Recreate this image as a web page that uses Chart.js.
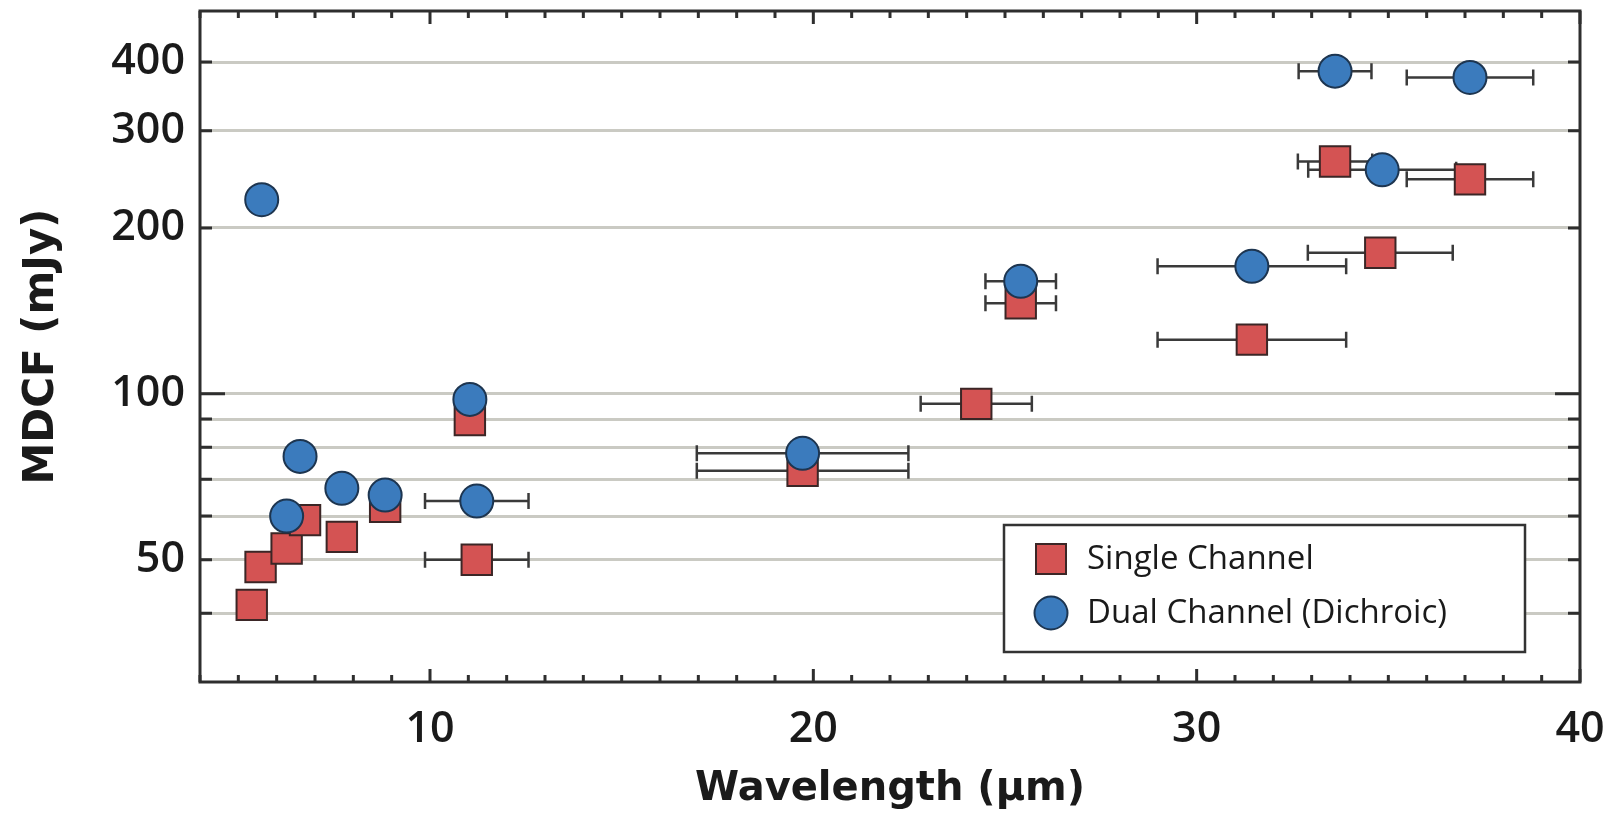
<!DOCTYPE html>
<html>
<head>
<meta charset="utf-8">
<title>MDCF vs Wavelength</title>
<script src="https://cdn.jsdelivr.net/npm/chart.js@4.4.1/dist/chart.umd.min.js"></script>
<style>
    html, body { margin: 0; padding: 0; background: #fff; }
    canvas { display: block; }
</style>
</head>
<body>
<canvas id="mdcfChart" width="1619" height="814"></canvas>
<script>
// --- data ---
const singleX    = [5.35, 5.58, 6.26, 6.74, 7.70, 8.83, 11.04, 11.22, 19.72, 24.25, 25.41, 31.44, 34.79, 33.61, 37.13];
const singleY    = [41.4, 48.5, 52.4, 59.0, 55.0, 62.4, 89.6, 50.0, 72.5, 95.9, 146, 125.4, 180.3, 264, 245];
const singleXErr = [0, 0, 0, 0, 0, 0, 0, 1.35, 2.76, 1.45, 0.92, 2.46, 1.89, 0.97, 1.65];

const dualX    = [5.61, 6.61, 6.26, 7.70, 8.83, 11.04, 11.22, 19.72, 25.41, 31.44, 33.61, 37.13, 34.84];
const dualY    = [225, 77, 60, 67.4, 65.5, 97.7, 63.9, 78, 160, 170.4, 385, 375, 255];
const dualXErr = [0, 0, 0, 0, 0, 0, 1.35, 2.76, 0.92, 2.46, 0.95, 1.65, 1.93];

const xTickLabels = [10, 20, 30, 40];
const yGridValues = [40, 50, 60, 70, 80, 90, 100, 200, 300, 400];
const yTickLabels = [50, 100, 200, 300, 400];

// --- styles ---
const RED = '#d45353';
const RED_EDGE = '#3b2626';
const BLUE = '#3b7bbd';
const BLUE_EDGE = '#1d3550';
const AXIS = '#2e2e2e';
const TEXT = '#1a1a1a';

function toPoints(xs, ys) {
    return xs.map((x, i) => ({ x: x, y: ys[i] }));
}

// error bars, frame, inward ticks and the boxed legend
const decorPlugin = {
    id: 'decor',
    beforeDatasetsDraw(chart) {
        const ctx = chart.ctx;
        const xs = chart.scales.x, ys = chart.scales.y;
        ctx.save();
        ctx.strokeStyle = '#3a3a3a';
        ctx.lineWidth = 2.5;
        chart.data.datasets.forEach(ds => {
            ds.data.forEach((p, i) => {
                const e = ds.xErr[i];
                if (!e) return;
                const x1 = xs.getPixelForValue(p.x - e);
                const x2 = xs.getPixelForValue(p.x + e);
                const y = ys.getPixelForValue(p.y);
                ctx.beginPath();
                ctx.moveTo(x1, y); ctx.lineTo(x2, y);
                ctx.moveTo(x1, y - 8); ctx.lineTo(x1, y + 8);
                ctx.moveTo(x2, y - 8); ctx.lineTo(x2, y + 8);
                ctx.stroke();
            });
        });
        ctx.restore();
    },
    afterDatasetsDraw(chart) {
        const ctx = chart.ctx;
        const a = chart.chartArea;
        const xs = chart.scales.x, ys = chart.scales.y;
        ctx.save();
        ctx.strokeStyle = AXIS;
        ctx.lineWidth = 3;

        // ticks on x (bottom and top), pointing inward
        xs.ticks.forEach(t => {
            const px = xs.getPixelForValue(t.value);
            const len = t.value % 10 === 0 ? 13 : 7;
            ctx.beginPath();
            ctx.moveTo(px, a.bottom); ctx.lineTo(px, a.bottom - len);
            ctx.moveTo(px, a.top); ctx.lineTo(px, a.top + len);
            ctx.stroke();
        });
        // ticks on y (left and right)
        ys.ticks.forEach(t => {
            const py = ys.getPixelForValue(t.value);
            const len = t.value === 100 ? 25 : 12;
            ctx.beginPath();
            ctx.moveTo(a.left, py); ctx.lineTo(a.left + len, py);
            ctx.moveTo(a.right, py); ctx.lineTo(a.right - len, py);
            ctx.stroke();
        });

        // frame
        ctx.strokeRect(a.left, a.top, a.right - a.left, a.bottom - a.top);

        // legend box
        const lw = 521, lh = 127;
        const lx = a.right - 55 - lw, ly = a.bottom - 30 - lh;
        ctx.fillStyle = '#fff';
        ctx.fillRect(lx, ly, lw, lh);
        ctx.lineWidth = 2.5;
        ctx.strokeStyle = '#333';
        ctx.strokeRect(lx, ly, lw, lh);

        const mx = lx + 47;
        const rows = [ly + 34, ly + 88];
        ctx.font = '33px "Open Sans"';
        ctx.textBaseline = 'alphabetic';
        ctx.textAlign = 'left';
        chart.data.datasets.forEach((ds, i) => {
            const my = rows[i];
            ctx.beginPath();
            if (ds.pointStyle === 'rect') {
                ctx.rect(mx - 15, my - 15, 30, 30);
            } else {
                ctx.arc(mx, my, 16.5, 0, Math.PI * 2);
            }
            ctx.fillStyle = ds.pointBackgroundColor;
            ctx.fill();
            ctx.lineWidth = 2;
            ctx.strokeStyle = ds.pointBorderColor;
            ctx.stroke();
            ctx.fillStyle = TEXT;
            ctx.fillText(ds.label, lx + 83, my + 10);
        });
        ctx.restore();
    }
};

const chart = new Chart(document.getElementById('mdcfChart'), {
    type: 'scatter',
    data: {
        datasets: [{
            label: 'Single Channel',
            data: toPoints(singleX, singleY),
            xErr: singleXErr,
            pointStyle: 'rect',
            pointRadius: 21.5,
            pointBackgroundColor: RED,
            pointBorderColor: RED_EDGE,
            pointBorderWidth: 2,
            order: 2
        }, {
            label: 'Dual Channel (Dichroic)',
            data: toPoints(dualX, dualY),
            xErr: dualXErr,
            pointStyle: 'circle',
            pointRadius: 16.5,
            pointBackgroundColor: BLUE,
            pointBorderColor: BLUE_EDGE,
            pointBorderWidth: 2,
            order: 1
        }]
    },
    options: {
        responsive: false,
        animation: false,
        events: [],
        layout: { autoPadding: false, padding: { top: 11, right: 39, left: 0, bottom: 0 } },
        plugins: {
            legend: { display: false },
            tooltip: { enabled: false }
        },
        scales: {
            x: {
                type: 'linear',
                min: 4,
                max: 40,
                grid: { display: false },
                border: { display: false },
                ticks: {
                    stepSize: 1,
                    autoSkip: false,
                    maxRotation: 0,
                    padding: 14,
                    color: TEXT,
                    font: { family: '"Open Sans"', size: 43, weight: '600' },
                    callback: v => xTickLabels.includes(v) ? String(v) : ''
                },
                title: {
                    display: true,
                    text: 'Wavelength (µm)',
                    color: TEXT,
                    font: { family: '"DejaVu Sans"', size: 40, weight: 'bold' },
                    padding: { top: 6, bottom: 0 }
                },
                afterFit: s => { s.height = 132; s.paddingLeft = 0; s.paddingRight = 0; }
            },
            y: {
                type: 'logarithmic',
                min: 30,
                max: 495,
                afterBuildTicks: s => { s.ticks = yGridValues.map(v => ({ value: v })); },
                grid: { color: 'rgba(180, 180, 170, 0.7)', lineWidth: 3, drawTicks: false },
                border: { display: false },
                ticks: {
                    autoSkip: false,
                    padding: 15,
                    color: TEXT,
                    font: { family: '"Open Sans"', size: 43, weight: '600' },
                    callback: v => yTickLabels.includes(v) ? String(v) : ''
                },
                title: {
                    display: true,
                    text: 'MDCF (mJy)',
                    color: TEXT,
                    font: { family: '"DejaVu Sans"', size: 42, weight: 'bold' },
                    padding: { top: 17, bottom: 0 }
                },
                afterFit: s => { s.width = 200; s.paddingTop = 0; s.paddingBottom = 0; }
            }
        }
    },
    plugins: [decorPlugin]
});
</script>
</body>
</html>
